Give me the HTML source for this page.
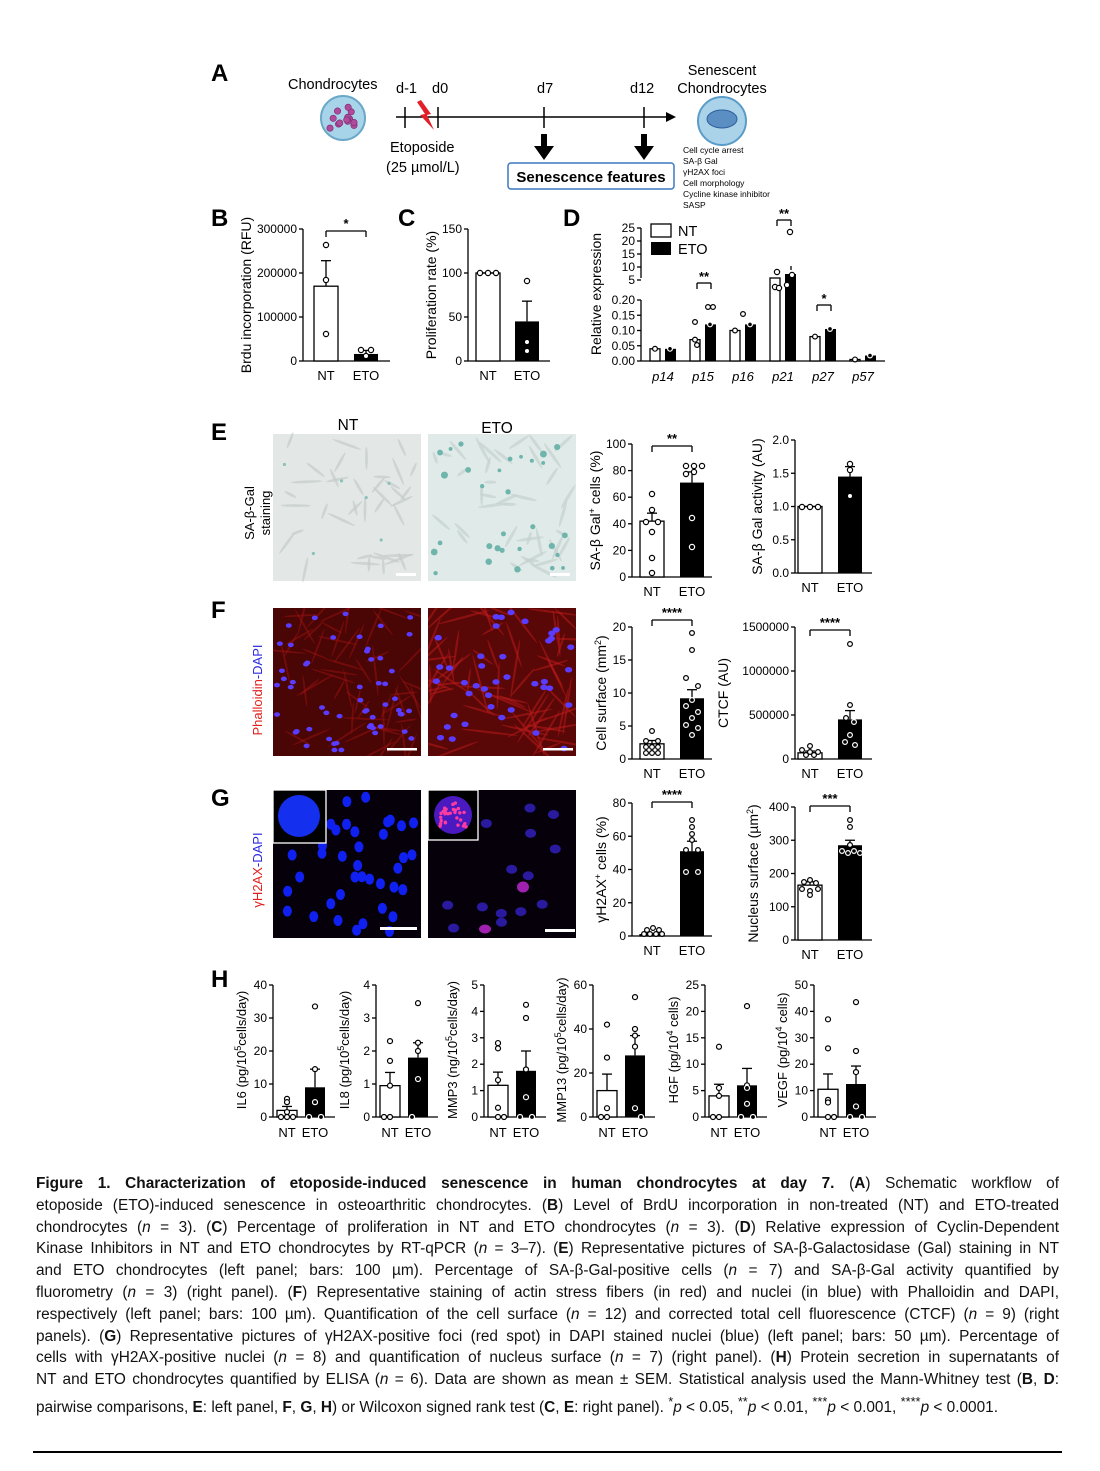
<!DOCTYPE html>
<html><head><meta charset="utf-8">
<style>
html,body{margin:0;padding:0;background:#fff;}
body{width:1100px;height:1471px;position:relative;overflow:hidden;font-family:"Liberation Sans",sans-serif;}
#fig{position:absolute;left:0;top:0;}
.cap{position:absolute;left:36px;width:1023px;top:1173px;font-family:"Liberation Sans",sans-serif;font-size:15.4px;line-height:21.8px;color:#111;}
.cap div{text-align:justify;text-align-last:justify;white-space:nowrap;overflow:visible;}
.cap div.last{text-align-last:left;}
.rule{position:absolute;left:33px;width:1029px;top:1451px;height:2px;background:#000;}
</style></head><body>
<svg id="fig" width="1100" height="1170" xmlns="http://www.w3.org/2000/svg" font-family="Liberation Sans, sans-serif">
<g id="g"></g>
</svg>
<div class="cap">
<div><b>Figure 1. Characterization of etoposide-induced senescence in human chondrocytes at day 7.</b> (<b>A</b>) Schematic workflow of</div>
<div>etoposide (ETO)-induced senescence in osteoarthritic chondrocytes. (<b>B</b>) Level of BrdU incorporation in non-treated (NT) and ETO-treated</div>
<div>chondrocytes (<i>n</i> = 3). (<b>C</b>) Percentage of proliferation in NT and ETO chondrocytes (<i>n</i> = 3). (<b>D</b>) Relative expression of Cyclin-Dependent</div>
<div>Kinase Inhibitors in NT and ETO chondrocytes by RT-qPCR (<i>n</i> = 3–7). (<b>E</b>) Representative pictures of SA-β-Galactosidase (Gal) staining in NT</div>
<div>and ETO chondrocytes (left panel; bars: 100 µm). Percentage of SA-β-Gal-positive cells (<i>n</i> = 7) and SA-β-Gal activity quantified by</div>
<div>fluorometry (<i>n</i> = 3) (right panel). (<b>F</b>) Representative staining of actin stress fibers (in red) and nuclei (in blue) with Phalloidin and DAPI,</div>
<div>respectively (left panel; bars: 100 µm). Quantification of the cell surface (<i>n</i> = 12) and corrected total cell fluorescence (CTCF) (<i>n</i> = 9) (right</div>
<div>panels). (<b>G</b>) Representative pictures of γH2AX-positive foci (red spot) in DAPI stained nuclei (blue) (left panel; bars: 50 µm). Percentage of</div>
<div>cells with γH2AX-positive nuclei (<i>n</i> = 8) and quantification of nucleus surface (<i>n</i> = 7) (right panel). (<b>H</b>) Protein secretion in supernatants of</div>
<div>NT and ETO chondrocytes quantified by ELISA (<i>n</i> = 6). Data are shown as mean ± SEM. Statistical analysis used the Mann-Whitney test (<b>B</b>, <b>D</b>:</div>
<div class="last">pairwise comparisons, <b>E</b>: left panel, <b>F</b>, <b>G</b>, <b>H</b>) or Wilcoxon signed rank test (<b>C</b>, <b>E</b>: right panel). <sup>*</sup><i>p</i> &lt; 0.05, <sup>**</sup><i>p</i> &lt; 0.01, <sup>***</sup><i>p</i> &lt; 0.001, <sup>****</sup><i>p</i> &lt; 0.0001.</div>
</div>
<div class="rule"></div>
<script>
var s='';
var seed=7;function rnd(){seed=(seed*16807)%2147483647;return seed/2147483647;}
function t(x,y,str,sz,extra){s+='<text x="'+x+'" y="'+y+'" font-size="'+(sz||13)+'" '+(extra||'')+'>'+str+'</text>';}
function L(x1,y1,x2,y2,w,c){s+='<line x1="'+x1+'" y1="'+y1+'" x2="'+x2+'" y2="'+y2+'" stroke="'+(c||'#000')+'" stroke-width="'+(w||1.3)+'"/>';}
function R(x,y,w,h,f,st){s+='<rect x="'+x+'" y="'+y+'" width="'+w+'" height="'+h+'" fill="'+f+'"'+(st?' stroke="'+st+'" stroke-width="1.3"':'')+'/>';}
function C(x,y,r,f,st,sw){s+='<circle cx="'+x+'" cy="'+y+'" r="'+r+'" fill="'+f+'"'+(st?' stroke="'+st+'" stroke-width="'+(sw||1.2)+'"':'')+'/>';}
function lab(x,y,l){t(x,y,l,24,'font-weight="bold"');}
function chart(o){
 var ax=o.ax,y0=o.y0,yt=o.yt,max=o.max;
 function Y(v){return y0-(v/max)*(y0-yt);}
 L(ax,yt,ax,y0);L(ax,y0,o.xend,y0);
 o.ticks.forEach(function(tk){var y=Y(tk[0]);L(ax-4,y,ax,y);t(ax-6,y+4,tk[1],o.fs||12,'text-anchor="end"');});
 o.bars.forEach(function(b){
  var top=Y(b.v);
  R(b.x,top,b.w,y0-top,b.black?'#000':'#fff',b.black?null:'#000');
  var et=Y(b.v+b.e);L(b.x+b.w/2,top,b.x+b.w/2,et);L(b.x+b.w/2-5,et,b.x+b.w/2+5,et);
 });
 if(o.yl){s+='<text transform="translate('+o.ylx+','+((y0+yt)/2)+') rotate(-90)" font-size="'+(o.ylfs||14)+'" text-anchor="middle">'+o.yl+'</text>';}
 (o.xl||[]).forEach(function(xl){t(xl[0],y0+19,xl[1],13,'text-anchor="middle"');});
 if(o.sig){var sg=o.sig;L(sg[0],sg[2],sg[1],sg[2]);L(sg[0],sg[2],sg[0],sg[2]+6);L(sg[1],sg[2],sg[1],sg[2]+6);t((sg[0]+sg[1])/2,sg[2]-3,sg[3],13,'text-anchor="middle" font-weight="bold"');}
}
// ===== Panel A
lab(211,81,'A');
t(288,89,'Chondrocytes',14.5);
C(343,118,22,'#a8d4ea','#6aa7c8',2);
for(var i=0;i<14;i++){C(330+rnd()*26,106+rnd()*24,3.2,'#b04a9a','#7a2a70',0.6);}
L(396,117,668,117,1.5);s+='<polygon points="676,117 666,112 666,122" fill="#000"/>';
[405,438,544,644].forEach(function(x){L(x,107,x,128,1.5);});
t(396,93,'d-1',14.5);t(432,93,'d0',14.5);t(537,93,'d7',14.5);t(630,93,'d12',14.5);
s+='<polygon points="421,100 431,114 427,115 434,130 420,115 425,114 417,102" fill="#e2202a"/>';
t(390,152,'Etoposide',14.5);t(386,172,'(25 µmol/L)',14.5);
[544,644].forEach(function(x){R(x-3,134,6,12,'#000');s+='<polygon points="'+(x-10)+',146 '+(x+10)+',146 '+x+',160" fill="#000"/>';});
s+='<rect x="508" y="163" width="166" height="26" rx="3" fill="#fff" stroke="#3b79c0" stroke-width="1.5"/>';
t(591,182,'Senescence features',15,'text-anchor="middle" font-weight="bold"');
t(722,75,'Senescent',14.5,'text-anchor="middle"');t(722,93,'Chondrocytes',14.5,'text-anchor="middle"');
C(722,121,24,'#aad3ea','#5a9cc8',2);s+='<ellipse cx="722" cy="119" rx="15" ry="9" fill="#5b8fc4" stroke="#2e5f9c"/>';
['Cell cycle arrest','SA-β Gal','γH2AX foci','Cell morphology','Cycline kinase inhibitor','SASP'].forEach(function(w,i){t(683,153+i*11,w,8.5);});
// ===== B
lab(211,226,'B');
chart({ax:303,y0:361,yt:229,max:300000,xend:390,ticks:[[0,'0'],[100000,'100000'],[200000,'200000'],[300000,'300000']],
 bars:[{x:314,w:24,v:170000,e:58000},{x:354,w:24,v:16000,e:8000,black:1}],yl:'Brdu incorporation (RFU)',ylx:251,xl:[[326,'NT'],[366,'ETO']],sig:[326,366,231,'*']});
C(326,245,2.6,'#fff','#000');C(326,280,2.6,'#fff','#000');C(326,334,2.6,'#fff','#000');
C(361,350,2.6,'#fff','#000');C(371,350,2.6,'#fff','#000');C(366,356,2.6,'#fff','#000');
// ===== C
lab(398,226,'C');
chart({ax:468,y0:361,yt:229,max:150,xend:550,ticks:[[0,'0'],[50,'50'],[100,'100'],[150,'150']],
 bars:[{x:476,w:24,v:100,e:0},{x:515,w:24,v:45,e:23,black:1}],yl:'Proliferation rate (%)',ylx:436,xl:[[488,'NT'],[527,'ETO']]});
C(480,273,2.6,'#fff','#000');C(488,273,2.6,'#fff','#000');C(496,273,2.6,'#fff','#000');
C(527,281,2.6,'#fff','#000');C(527,342,2.6,'#fff','#000');C(527,351,2.6,'#fff','#000');
// ===== D
lab(563,226,'D');
var dax=641;
L(dax,228,dax,278);L(dax,300,dax,361);L(dax,361,885,361);
[[0,'0.00'],[0.05,'0.05'],[0.1,'0.10'],[0.15,'0.15'],[0.2,'0.20']].forEach(function(k){var y=361-k[0]/0.2*61;L(dax-4,y,dax,y);t(dax-6,y+4,k[1],12,'text-anchor="end"');});
[[5,'5'],[10,'10'],[15,'15'],[20,'20'],[25,'25']].forEach(function(k){var y=280-(k[0]-5)/20*52;L(dax-4,y,dax,y);t(dax-6,y+4,k[1],12,'text-anchor="end"');});
s+='<text transform="translate(601,294) rotate(-90)" font-size="14" text-anchor="middle">Relative expression</text>';
R(651,224,20,13,'#fff','#000');t(678,236,'NT',14.5);R(651,242,20,13,'#000');t(678,254,'ETO',14.5);
var dd=[[0.04,0.04,'p14'],[0.07,0.12,'p15'],[0.1,0.12,'p16'],[1,1,'p21'],[0.08,0.105,'p27'],[0.005,0.018,'p57']];
dd.forEach(function(d,i){var cx=663+i*40;
 var h1=d[0]>=1?83:d[0]/0.2*61,h2=d[1]>=1?87:d[1]/0.2*61;
 R(cx-13,361-h1,10,h1,'#fff','#000');R(cx+2,361-h2,11,h2,'#000');
 if(d[0]>=1){C(cx-8,287,2.6,'#fff','#000');C(cx-4,288,2.6,'#fff','#000');C(cx-6,272,2.6,'#fff','#000');C(cx+4,285,2.6,'#fff','#000');C(cx+9,275,2.6,'#fff','#000');C(cx+7,232,2.6,'#fff','#000');L(cx+8,270,cx+8,266);}
 else{C(cx-8,361-h1,2.4,'#fff','#000');C(cx+7,361-h2,2.4,'#000','#fff');}
 t(cx,381,d[2],13,'text-anchor="middle" font-style="italic"');});
C(695,322,2.4,'#fff','#000');C(697,345,2.4,'#fff','#000');C(708,307,2.4,'#fff','#000');C(713,307,2.4,'#fff','#000');C(743,314,2.4,'#fff','#000');
function sg(a,b,y,txt){L(a,y,b,y);L(a,y,a,y+6);L(b,y,b,y+6);t((a+b)/2,y-2,txt,13,'text-anchor="middle" font-weight="bold"');}
sg(697,711,283,'**');sg(777,791,220,'**');sg(817,831,305,'*');
// ===== E images
lab(211,440,'E');t(348,430,'NT',15.5,'text-anchor="middle"');t(497,433,'ETO',15.5,'text-anchor="middle"');
s+='<text transform="translate(254,513) rotate(-90)" font-size="13" text-anchor="middle">SA-β-Gal</text><text transform="translate(270,513) rotate(-90)" font-size="13" text-anchor="middle">staining</text>';
R(273,434,148,147,'#e3e8e6');R(428,434,148,147,'#e0ebe9');
for(var i=0;i<40;i++){var x=280+rnd()*134,y=440+rnd()*134,a=rnd()*180;s+='<ellipse cx="'+x+'" cy="'+y+'" rx="'+(6+rnd()*10)+'" ry="1.4" transform="rotate('+a+' '+x+' '+y+')" fill="#c4ccc9" opacity="0.7"/>';}
for(var i=0;i<40;i++){var x=435+rnd()*134,y=440+rnd()*134,a=rnd()*180;s+='<ellipse cx="'+x+'" cy="'+y+'" rx="'+(6+rnd()*10)+'" ry="1.6" transform="rotate('+a+' '+x+' '+y+')" fill="#c4d2cf" opacity="0.7"/>';}
for(var i=0;i<30;i++){C(434+rnd()*136,440+rnd()*134,1.8+rnd()*1.8,'#6fb5ac');}
for(var i=0;i<6;i++){C(280+rnd()*134,442+rnd()*130,1.6,'#8cc2ba');}
R(396,573,20,3,'#fff');R(550,573,20,3,'#fff');
chart({ax:632,y0:577,yt:444,max:100,xend:712,ticks:[[0,'0'],[20,'20'],[40,'40'],[60,'60'],[80,'80'],[100,'100']],
 bars:[{x:640,w:24,v:42,e:6},{x:680,w:24,v:71,e:8,black:1}],yl:'SA-β Gal<tspan dy="-5" font-size="9">+</tspan><tspan dy="5"> cells (%)</tspan>',ylx:600,xl:[[652,'NT'],[692,'ETO']],sig:[652,692,446,'**']});
[[652,494],[652,510],[646,522],[658,522],[652,532],[652,558],[652,573]].forEach(function(p){C(p[0],p[1],2.6,'#fff','#000');});
[[686,466],[694,466],[702,466],[686,474],[694,472],[692,518],[692,547]].forEach(function(p){C(p[0],p[1],2.6,p[1]>483?'#000':'#fff',p[1]>483?'#fff':'#000');});
chart({ax:795,y0:573,yt:440,max:2,xend:872,ticks:[[0,'0.0'],[0.5,'0.5'],[1,'1.0'],[1.5,'1.5'],[2,'2.0']],
 bars:[{x:798,w:24,v:1,e:0},{x:838,w:24,v:1.45,e:0.15,black:1}],yl:'SA-β Gal activity (AU)',ylx:762,xl:[[810,'NT'],[850,'ETO']]});
C(802,507,2.6,'#fff','#000');C(810,507,2.6,'#fff','#000');C(818,507,2.6,'#fff','#000');C(850,464,2.6,'#fff','#000');C(850,470,2.6,'#fff','#000');C(850,496,2.6,'#fff','#000');
// ===== F
lab(211,618,'F');
s+='<text transform="translate(262,690) rotate(-90)" font-size="13" text-anchor="middle"><tspan fill="#e0201c">Phalloidin</tspan><tspan fill="#2a2ae0">-DAPI</tspan></text>';
s+='<clipPath id="c1"><rect x="273" y="608" width="148" height="148"/></clipPath><clipPath id="c2"><rect x="428" y="608" width="148" height="148"/></clipPath>';
R(273,608,148,148,'#4a0505');R(428,608,148,148,'#5a0707');
s+='<g clip-path="url(#c1)">';
for(var i=0;i<60;i++){var x=275+rnd()*144,y=610+rnd()*144,a=rnd()*180;s+='<ellipse cx="'+x+'" cy="'+y+'" rx="'+(10+rnd()*16)+'" ry="1" transform="rotate('+a+' '+x+' '+y+')" fill="#a51515" opacity="0.45"/>';}
s+='</g><g clip-path="url(#c2)">';
for(var i=0;i<70;i++){var x=430+rnd()*144,y=610+rnd()*144,a=rnd()*180;s+='<ellipse cx="'+x+'" cy="'+y+'" rx="'+(12+rnd()*20)+'" ry="1.1" transform="rotate('+a+' '+x+' '+y+')" fill="#c01c1c" opacity="0.5"/>';}
s+='</g>';
for(var i=0;i<55;i++){s+='<ellipse cx="'+(277+rnd()*140)+'" cy="'+(612+rnd()*140)+'" rx="3" ry="2.3" fill="#5a3cff"/>';}
for(var i=0;i<40;i++){s+='<ellipse cx="'+(432+rnd()*140)+'" cy="'+(612+rnd()*140)+'" rx="3.6" ry="2.8" fill="#5a3cff"/>';}
R(387,748,30,2.5,'#fff');R(543,748,30,2.5,'#fff');
chart({ax:632,y0:759,yt:627,max:20,xend:712,ticks:[[0,'0'],[5,'5'],[10,'10'],[15,'15'],[20,'20']],
 bars:[{x:640,w:24,v:2.3,e:0.5},{x:680,w:24,v:9.2,e:1.3,black:1}],yl:'Cell surface (mm<tspan dy="-5" font-size="9">2</tspan><tspan dy="5">)</tspan>',ylx:606,xl:[[652,'NT'],[692,'ETO']],sig:[652,692,620,'****']});
[[652,731],[646,741],[658,741],[646,747],[652,747],[658,747],[646,753],[652,753],[658,753]].forEach(function(p){C(p[0],p[1],2.4,'#fff','#000');});
[[692,633],[692,650],[686,678],[698,686],[692,700],[686,706],[698,712],[692,718],[686,725],[698,728],[692,735]].forEach(function(p){C(p[0],p[1],2.4,p[1]>697?'#000':'#fff',p[1]>697?'#fff':'#000');});
chart({ax:795,y0:759,yt:627,max:1500000,xend:872,ticks:[[0,'0'],[500000,'500000'],[1000000,'1000000'],[1500000,'1500000']],
 bars:[{x:798,w:24,v:70000,e:20000},{x:838,w:24,v:450000,e:100000,black:1}],yl:'CTCF (AU)',ylx:728,xl:[[810,'NT'],[850,'ETO']],sig:[810,850,630,'****']});
[[802,750],[810,752],[818,752],[806,755],[814,755],[810,746]].forEach(function(p){C(p[0],p[1],2.4,'#fff','#000');});
[[850,644],[850,705],[846,718],[854,722],[850,735],[845,742],[855,745]].forEach(function(p){C(p[0],p[1],2.4,p[1]>720?'#000':'#fff',p[1]>720?'#fff':'#000');});
// ===== G
lab(211,806,'G');
s+='<text transform="translate(262,870) rotate(-90)" font-size="13" text-anchor="middle"><tspan fill="#e0201c">γH2AX</tspan><tspan fill="#2a2ae0">-DAPI</tspan></text>';
R(273,790,148,148,'#06000a');R(428,790,148,148,'#06000a');
for(var i=0;i<40;i++){var x=278+rnd()*138,y=795+rnd()*138;if(x<330&&y<845)continue;s+='<ellipse cx="'+x+'" cy="'+y+'" rx="4.5" ry="5.5" fill="#1020f0"/>';}
for(var i=0;i<14;i++){var x=434+rnd()*136,y=795+rnd()*138;if(x<482&&y<842)continue;s+='<ellipse cx="'+x+'" cy="'+y+'" rx="5.5" ry="4.5" fill="#2a1aa0"/>';}
s+='<ellipse cx="523" cy="887" rx="6" ry="5.5" fill="#a020b0"/><ellipse cx="485" cy="929" rx="6" ry="4.5" fill="#a020b0"/>';
R(273,790,53,53,'#000','#fff');C(299,816,21,'#1430ee');
R(428,790,50,50,'#000','#fff');C(453,815,19,'#4a1ac0');for(var i=0;i<28;i++){C(440+rnd()*26,803+rnd()*24,1.7,'#ff3aa0');}
R(380,927,37,3,'#fff');R(545,929,30,3,'#fff');
chart({ax:632,y0:936,yt:803,max:80,xend:712,ticks:[[0,'0'],[20,'20'],[40,'40'],[60,'60'],[80,'80']],
 bars:[{x:640,w:24,v:0.8,e:0.6},{x:680,w:24,v:51,e:6,black:1}],yl:'γH2AX<tspan dy="-5" font-size="9">+</tspan><tspan dy="5"> cells (%)</tspan>',ylx:606,xl:[[652,'NT'],[692,'ETO']],sig:[652,692,802,'****']});
[[644,934],[650,934],[656,934],[662,934],[647,930],[653,928],[659,930]].forEach(function(p){C(p[0],p[1],2.4,'#fff','#000');});
[[692,820],[692,827],[692,834],[692,840],[686,850],[698,850],[686,872],[698,872]].forEach(function(p){C(p[0],p[1],2.4,p[1]>851?'#000':'#fff',p[1]>851?'#fff':'#000');});
chart({ax:795,y0:940,yt:807,max:400,xend:872,ticks:[[0,'0'],[100,'100'],[200,'200'],[300,'300'],[400,'400']],
 bars:[{x:798,w:24,v:165,e:10},{x:838,w:24,v:285,e:15,black:1}],yl:'Nucleus surface (µm<tspan dy="-5" font-size="9">2</tspan><tspan dy="5">)</tspan>',ylx:758,xl:[[810,'NT'],[850,'ETO']],sig:[810,850,806,'***']});
[[804,882],[810,880],[816,883],[802,889],[810,891],[818,889],[810,895]].forEach(function(p){C(p[0],p[1],2.4,'#fff','#000');});
[[850,820],[850,827],[842,851],[848,853],[854,851],[860,853],[850,845]].forEach(function(p){C(p[0],p[1],2.4,p[1]>847?'#000':'#fff',p[1]>847?'#fff':'#000');});
// ===== H
lab(211,987,'H');
var H=[
 {ax:273,max:40,tk:[0,10,20,30,40],nt:2,ne:1.2,et:9,ee:5.5,yl:'IL6 (pg/10<tspan dy="-5" font-size="9">5</tspan><tspan dy="5">cells/day)</tspan>',nd:[5.5,4.5,1.5,0,0,0],ed:[33.5,14.5,4.5,0,0]},
 {ax:376,max:4,tk:[0,1,2,3,4],nt:0.95,ne:0.4,et:1.8,ee:0.45,yl:'IL8 (pg/10<tspan dy="-5" font-size="9">5</tspan><tspan dy="5">cells/day)</tspan>',nd:[2.3,1.7,0.95,0,0],ed:[3.45,2.25,2,1.15,0]},
 {ax:484,max:5,tk:[0,1,2,3,4,5],nt:1.2,ne:0.5,et:1.75,ee:0.75,yl:'MMP3 (ng/10<tspan dy="-5" font-size="9">5</tspan><tspan dy="5">cells/day)</tspan>',nd:[2.8,2.6,1.4,0.35,0,0],ed:[4.25,3.75,1.8,0.75,0,0]},
 {ax:593,max:60,tk:[0,20,40,60],nt:12,ne:7.5,et:28,ee:9,yl:'MMP13 (pg/10<tspan dy="-5" font-size="9">5</tspan><tspan dy="5">cells/day)</tspan>',nd:[42,27,4,0,0],ed:[54.5,40,37,32,4,0]},
 {ax:705,max:25,tk:[0,5,10,15,20,25],nt:4,ne:2.2,et:6,ee:3.2,yl:'HGF (pg/10<tspan dy="-5" font-size="9">4</tspan><tspan dy="5"> cells)</tspan>',nd:[13.3,5.5,4,0,0],ed:[21,6,5.5,2.5,0,0]},
 {ax:814,max:50,tk:[0,10,20,30,40,50],nt:10.5,ne:5.8,et:12.5,ee:6.8,yl:'VEGF (pg/10<tspan dy="-5" font-size="9">4</tspan><tspan dy="5"> cells)</tspan>',nd:[37,26,6.5,5.5,0,0],ed:[43.5,25,17,4,0,0]}];
H.forEach(function(h){
 var ax=h.ax,y0=1117,yt=985;function Y(v){return y0-v/h.max*(y0-yt);}
 L(ax,yt,ax,y0);L(ax,y0,ax+62,y0);
 h.tk.forEach(function(v){var y=Y(v);L(ax-4,y,ax,y);t(ax-6,y+4,v,12,'text-anchor="end"');});
 var bx=ax+4,ex=ax+32;
 R(bx,Y(h.nt),20,y0-Y(h.nt),'#fff','#000');R(ex,Y(h.et),20,y0-Y(h.et),'#000');
 L(bx+10,Y(h.nt),bx+10,Y(h.nt+h.ne));L(bx+5,Y(h.nt+h.ne),bx+15,Y(h.nt+h.ne));
 L(ex+10,Y(h.et),ex+10,Y(h.et+h.ee));L(ex+5,Y(h.et+h.ee),ex+15,Y(h.et+h.ee));
 h.nd.forEach(function(v,i){C(bx+10+(v==0?(i%3-1)*6:0),Y(v),2.5,'#fff','#000');});
 h.ed.forEach(function(v,i){var inb=v<h.et;C(ex+10+(v==0?(i%2?6:-6):0),Y(v),2.5,inb?'#000':'#fff',inb?'#fff':'#000');});
 s+='<text transform="translate('+(ax-27)+',1050) rotate(-90)" font-size="13" text-anchor="middle">'+h.yl+'</text>';
 t(bx+10,1137,'NT',13,'text-anchor="middle"');t(ex+10,1137,'ETO',13,'text-anchor="middle"');
});
document.getElementById('g').innerHTML=s;
</script>
</body></html>
